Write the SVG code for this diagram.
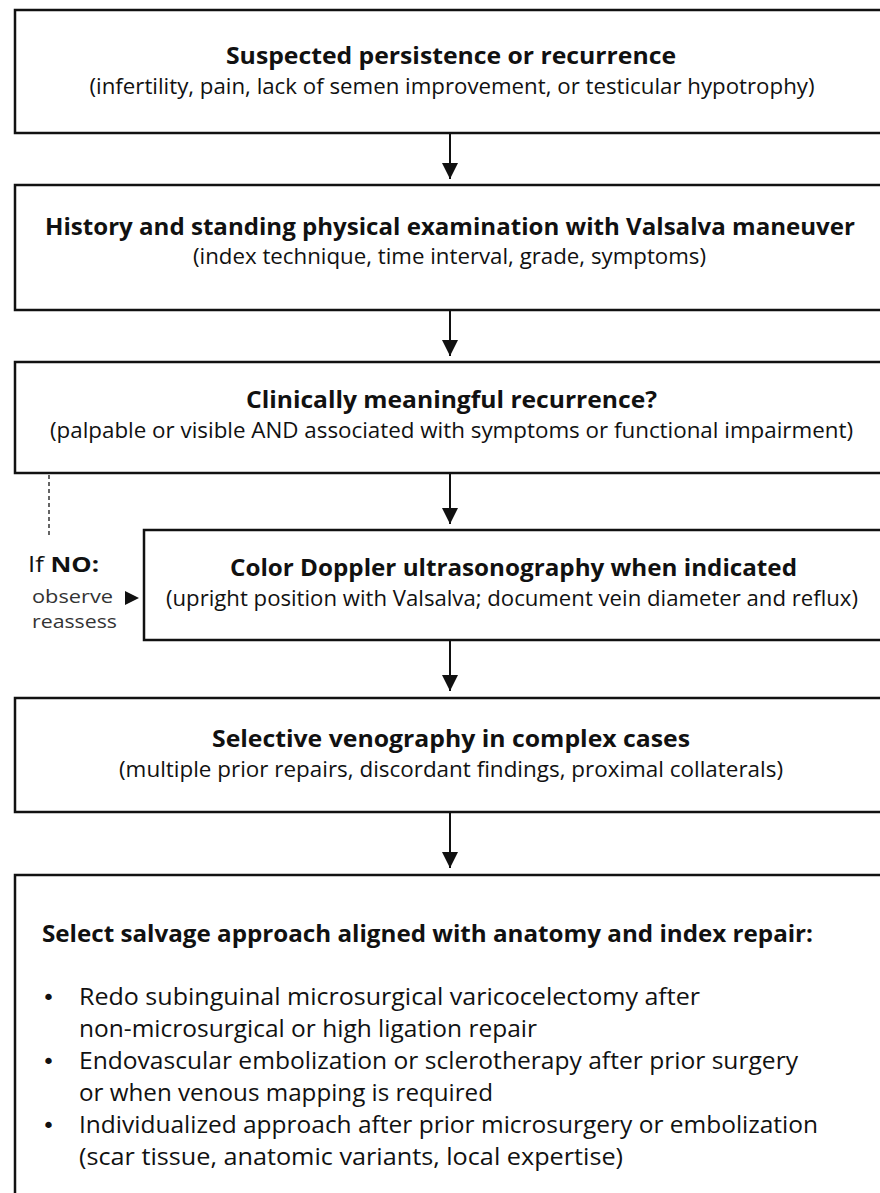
<svg xmlns="http://www.w3.org/2000/svg" width="880" height="1193" viewBox="0 0 880 1193">
<style>
.box{fill:#fff;stroke:#111;stroke-width:2.5}
.t{font-family:"Open Sans","Liberation Sans",sans-serif;font-weight:700;font-size:22.5px;fill:#111;text-anchor:middle}
.s{font-family:"Open Sans","Liberation Sans",sans-serif;font-size:21.5px;fill:#111;text-anchor:middle}
.b{font-family:"Open Sans","Liberation Sans",sans-serif;font-size:23.5px;fill:#111}
.dot{font-family:"DejaVu Sans",sans-serif;font-size:22px;fill:#111}
.bt{font-family:"Open Sans","Liberation Sans",sans-serif;font-weight:700;font-size:22.5px;fill:#111}
.g{font-family:"Open Sans","Liberation Sans",sans-serif;font-size:18.5px;fill:#333}
.line{stroke:#111;stroke-width:2;fill:none}
</style>
<defs>
<marker id="ah" viewBox="0 0 16 16" refX="16" refY="8" markerWidth="16" markerHeight="16" markerUnits="userSpaceOnUse" orient="auto">
<path d="M0,0 L16,8 L0,16 Z" fill="#111"/>
</marker>
</defs>
<rect width="880" height="1193" fill="#fff"/>

<g id="n1">
<rect class="box" x="15" y="10" width="880" height="123"/>
<text class="t" x="451" y="64" textLength="450" lengthAdjust="spacingAndGlyphs">Suspected persistence or recurrence</text>
<text class="s" x="452" y="94" textLength="725" lengthAdjust="spacingAndGlyphs">(infertility, pain, lack of semen improvement, or testicular hypotrophy)</text>
</g>

<g id="n2">
<rect class="box" x="15" y="185" width="880" height="125"/>
<text class="t" x="450" y="235" textLength="810" lengthAdjust="spacingAndGlyphs">History and standing physical examination with Valsalva maneuver</text>
<text class="s" x="449.5" y="264" textLength="513" lengthAdjust="spacingAndGlyphs">(index technique, time interval, grade, symptoms)</text>
</g>

<g id="n3">
<rect class="box" x="15" y="362" width="880" height="111"/>
<text class="t" x="451.5" y="408" textLength="411" lengthAdjust="spacingAndGlyphs">Clinically meaningful recurrence?</text>
<text class="s" x="451.5" y="438" textLength="803" lengthAdjust="spacingAndGlyphs">(palpable or visible AND associated with symptoms or functional impairment)</text>
</g>

<g id="n4">
<rect class="box" x="144" y="530" width="750" height="110"/>
<text class="t" x="513.5" y="576" textLength="567" lengthAdjust="spacingAndGlyphs">Color Doppler ultrasonography when indicated</text>
<text class="s" x="512" y="606" textLength="692" lengthAdjust="spacingAndGlyphs">(upright position with Valsalva; document vein diameter and reflux)</text>
</g>

<g id="n5">
<rect class="box" x="15" y="698" width="880" height="114"/>
<text class="t" x="451" y="747" textLength="478" lengthAdjust="spacingAndGlyphs">Selective venography in complex cases</text>
<text class="s" x="451" y="777" textLength="664" lengthAdjust="spacingAndGlyphs">(multiple prior repairs, discordant findings, proximal collaterals)</text>
</g>

<g id="n6">
<rect class="box" x="15" y="875" width="880" height="340"/>
<text class="bt" x="42" y="942" textLength="771" lengthAdjust="spacingAndGlyphs">Select salvage approach aligned with anatomy and index repair:</text>
<text class="dot" x="42" y="1005">•</text>
<text class="b" x="79" y="1005" textLength="621" lengthAdjust="spacingAndGlyphs">Redo subinguinal microsurgical varicocelectomy after</text>
<text class="b" x="79" y="1037" textLength="458" lengthAdjust="spacingAndGlyphs">non-microsurgical or high ligation repair</text>
<text class="dot" x="42" y="1069">•</text>
<text class="b" x="79" y="1069" textLength="719" lengthAdjust="spacingAndGlyphs">Endovascular embolization or sclerotherapy after prior surgery</text>
<text class="b" x="79" y="1101" textLength="414" lengthAdjust="spacingAndGlyphs">or when venous mapping is required</text>
<text class="dot" x="42" y="1133">•</text>
<text class="b" x="79" y="1133" textLength="739" lengthAdjust="spacingAndGlyphs">Individualized approach after prior microsurgery or embolization</text>
<text class="b" x="79" y="1165" textLength="544" lengthAdjust="spacingAndGlyphs">(scar tissue, anatomic variants, local expertise)</text>
</g>

<g id="no-branch">
<text x="28" y="572" style="font-family:'Open Sans','Liberation Sans',sans-serif;font-size:21.5px;fill:#111" textLength="71" lengthAdjust="spacingAndGlyphs">If <tspan font-weight="700">NO:</tspan></text>
<text class="g" x="32" y="603" textLength="81" lengthAdjust="spacingAndGlyphs">observe</text>
<text class="g" x="32" y="628" textLength="85" lengthAdjust="spacingAndGlyphs">reassess</text>
</g>

<g id="connectors">
<line class="line" x1="450" y1="133" x2="450" y2="179" marker-end="url(#ah)"/>
<line class="line" x1="450" y1="310" x2="450" y2="356" marker-end="url(#ah)"/>
<line class="line" x1="450" y1="473" x2="450" y2="524" marker-end="url(#ah)"/>
<line class="line" x1="450" y1="640" x2="450" y2="691" marker-end="url(#ah)"/>
<line class="line" x1="450" y1="812" x2="450" y2="868" marker-end="url(#ah)"/>
<line x1="49" y1="475" x2="49" y2="537" stroke="#333" stroke-width="1.5" stroke-dasharray="4,3"/>
<polygon points="125,591 139,598 125,605" fill="#111"/>
</g>
</svg>
